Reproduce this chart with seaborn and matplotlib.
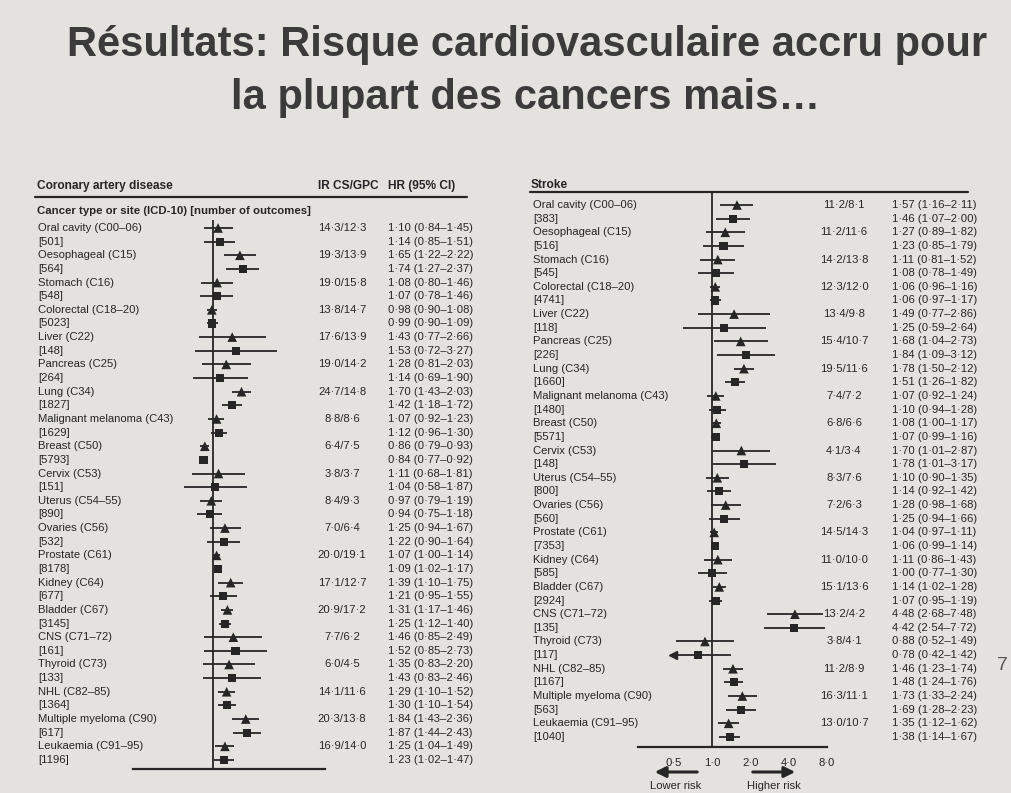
import pandas as pd
import matplotlib.pyplot as plt
import seaborn as sns
from matplotlib.lines import Line2D
from matplotlib.transforms import blended_transform_factory

W, H = 1011, 793

# Données
cancers = ["Oral cavity (C00–06)", "Oesophageal (C15)", "Stomach (C16)", "Colorectal (C18–20)",
           "Liver (C22)", "Pancreas (C25)", "Lung (C34)", "Malignant melanoma (C43)",
           "Breast (C50)", "Cervix (C53)", "Uterus (C54–55)", "Ovaries (C56)", "Prostate (C61)",
           "Kidney (C64)", "Bladder (C67)", "CNS (C71–72)", "Thyroid (C73)", "NHL (C82–85)",
           "Multiple myeloma (C90)", "Leukaemia (C91–95)"]

# Coronary artery disease
cad_n = [501, 564, 548, 5023, 148, 264, 1827, 1629, 5793, 151, 890, 532, 8178, 677, 3145, 161, 133, 1364, 617, 1196]
cad_ir_cs = [14.3, 19.3, 19.0, 13.8, 17.6, 19.0, 24.7, 8.8, 6.4, 3.8, 8.4, 7.0, 20.0, 17.1, 20.9, 7.7, 6.0, 14.1, 20.3, 16.9]
cad_ir_gpc = [12.3, 13.9, 15.8, 14.7, 13.9, 14.2, 14.8, 8.6, 7.5, 3.7, 9.3, 6.4, 19.1, 12.7, 17.2, 6.2, 4.5, 11.6, 13.8, 14.0]
cad_hr_tri = [1.10, 1.65, 1.08, 0.98, 1.43, 1.28, 1.70, 1.07, 0.86, 1.11, 0.97, 1.25, 1.07, 1.39, 1.31, 1.46, 1.35, 1.29, 1.84, 1.25]
cad_lo_tri = [0.84, 1.22, 0.80, 0.90, 0.77, 0.81, 1.43, 0.92, 0.79, 0.68, 0.79, 0.94, 1.00, 1.10, 1.17, 0.85, 0.83, 1.10, 1.43, 1.04]
cad_hi_tri = [1.45, 2.22, 1.46, 1.08, 2.66, 2.03, 2.03, 1.23, 0.93, 1.81, 1.19, 1.67, 1.14, 1.75, 1.46, 2.49, 2.20, 1.52, 2.36, 1.49]
cad_hr_sq = [1.14, 1.74, 1.07, 0.99, 1.53, 1.14, 1.42, 1.12, 0.84, 1.04, 0.94, 1.22, 1.09, 1.21, 1.25, 1.52, 1.43, 1.30, 1.87, 1.23]
cad_lo_sq = [0.85, 1.27, 0.78, 0.90, 0.72, 0.69, 1.18, 0.96, 0.77, 0.58, 0.75, 0.90, 1.02, 0.95, 1.12, 0.85, 0.83, 1.10, 1.44, 1.02]
cad_hi_sq = [1.51, 2.37, 1.46, 1.09, 3.27, 1.90, 1.72, 1.30, 0.92, 1.87, 1.18, 1.64, 1.17, 1.55, 1.40, 2.73, 2.46, 1.54, 2.43, 1.47]

# Stroke
stk_n = [383, 516, 545, 4741, 118, 226, 1660, 1480, 5571, 148, 800, 560, 7353, 585, 2924, 135, 117, 1167, 563, 1040]
stk_ir_cs = [11.2, 11.2, 14.2, 12.3, 13.4, 15.4, 19.5, 7.4, 6.8, 4.1, 8.3, 7.2, 14.5, 11.0, 15.1, 13.2, 3.8, 11.2, 16.3, 13.0]
stk_ir_gpc = [8.1, 11.6, 13.8, 12.0, 9.8, 10.7, 11.6, 7.2, 6.6, 3.4, 7.6, 6.3, 14.3, 10.0, 13.6, 4.2, 4.1, 8.9, 11.1, 10.7]
stk_hr_tri = [1.57, 1.27, 1.11, 1.06, 1.49, 1.68, 1.78, 1.07, 1.08, 1.70, 1.10, 1.28, 1.04, 1.11, 1.14, 4.48, 0.88, 1.46, 1.73, 1.35]
stk_lo_tri = [1.16, 0.89, 0.81, 0.96, 0.77, 1.04, 1.50, 0.92, 1.00, 1.01, 0.90, 0.98, 0.97, 0.86, 1.02, 2.68, 0.52, 1.23, 1.33, 1.12]
stk_hi_tri = [2.11, 1.82, 1.52, 1.16, 2.86, 2.73, 2.12, 1.24, 1.17, 2.87, 1.35, 1.68, 1.11, 1.43, 1.28, 7.48, 1.49, 1.74, 2.24, 1.62]
stk_hr_sq = [1.46, 1.23, 1.08, 1.06, 1.25, 1.84, 1.51, 1.10, 1.07, 1.78, 1.14, 1.25, 1.06, 1.00, 1.07, 4.42, 0.78, 1.48, 1.69, 1.38]
stk_lo_sq = [1.07, 0.85, 0.78, 0.97, 0.59, 1.09, 1.26, 0.94, 0.99, 1.01, 0.92, 0.94, 0.99, 0.77, 0.95, 2.54, 0.42, 1.24, 1.28, 1.14]
stk_hi_sq = [2.00, 1.79, 1.49, 1.17, 2.64, 3.12, 1.82, 1.28, 1.16, 3.17, 1.42, 1.66, 1.14, 1.30, 1.19, 7.72, 1.42, 1.76, 2.23, 1.67]

ticks = [0.5, 1.0, 2.0, 4.0, 8.0]
tick_labels = ["0·5", "1·0", "2·0", "4·0", "8·0"]

INK = '#262626'
BG = '#e3e2df'
FONT = ['Liberation Sans', 'DejaVu Sans']
FS = 8.1

sns.set_style('white')
plt.rcParams['font.family'] = FONT
plt.rcParams['text.color'] = INK


def dot(v, nd=2):
    return f"{v:.{nd}f}".replace('.', '·')


def panel_df(hr_t, lo_t, hi_t, hr_s, lo_s, hi_s):
    rows = []
    for k in range(len(cancers)):
        rows.append(dict(row=2 * k, hr=hr_t[k], lo=lo_t[k], hi=hi_t[k], kind='tri'))
        rows.append(dict(row=2 * k + 1, hr=hr_s[k], lo=lo_s[k], hi=hi_s[k], kind='sq'))
    return pd.DataFrame(rows)


def px_axes(fig, x0, x1, y0, y1):
    return fig.add_axes([x0 / W, 1 - y1 / H, (x1 - x0) / W, (y1 - y0) / H])


def draw_panel(fig, ax, df, xlim, ylim, clip, ir_cs, ir_gpc, counts, x_lab, x_ir, x_hr, show_labels):
    ax.set_facecolor('none')
    ax.set_xscale('log', base=2)
    ax.axvline(1, color=INK, lw=1.3, zorder=1)
    d = df.copy()
    d['lo_c'] = d['lo'].clip(lower=clip)
    ax.hlines(d['row'], d['lo_c'], d['hi'], color=INK, lw=1.3, zorder=2)
    cut = d[d['lo'] < clip]
    ax.plot(cut['lo_c'], cut['row'], marker='<', ls='none', color=INK, ms=6, zorder=3)
    sns.scatterplot(data=d, x='hr', y='row', style='kind', markers={'tri': '^', 'sq': 's'},
                    size='kind', sizes={'tri': 48, 'sq': 34}, color=INK, edgecolor=INK,
                    linewidth=0, legend=False, ax=ax, zorder=4)
    ax.set_xlim(*xlim)
    ax.set_ylim(*ylim)
    ax.set_xlabel('')
    ax.set_ylabel('')
    ax.set_yticks([])
    ax.set_xticks(ticks)
    ax.minorticks_off()
    if show_labels:
        ax.set_xticklabels(tick_labels, fontsize=FS)
    else:
        ax.set_xticklabels([])
    ax.tick_params(axis='x', direction='out', length=6, width=1.3, color=INK, pad=2)
    for s in ['top', 'left', 'right']:
        ax.spines[s].set_visible(False)
    ax.spines['bottom'].set_linewidth(1.6)
    ax.spines['bottom'].set_color(INK)

    tr = blended_transform_factory(fig.transFigure, ax.transData)
    for k, name in enumerate(cancers):
        ax.text(x_lab / W, 2 * k, name, transform=tr, va='center', fontsize=FS)
        ax.text(x_lab / W, 2 * k + 1, f"[{counts[k]}]", transform=tr, va='center', fontsize=FS)
        ax.text(x_ir / W, 2 * k, f"{dot(ir_cs[k], 1)}/{dot(ir_gpc[k], 1)}", transform=tr,
                va='center', ha='center', fontsize=FS)
    for _, r in df.iterrows():
        ax.text(x_hr / W, r['row'], f"{dot(r['hr'])} ({dot(r['lo'])}–{dot(r['hi'])})",
                transform=tr, va='center', fontsize=FS)


fig = plt.figure(figsize=(W / 100, H / 100), dpi=100)
fig.patch.set_facecolor(BG)

# Titre
fig.text(527 / W, 1 - 45 / H, "Résultats: Risque cardiovasculaire accru pour", ha='center', va='center',
         fontsize=30, fontweight='bold', color='#3b3b3b')
fig.text(526 / W, 1 - 98 / H, "la plupart des cancers mais…", ha='center', va='center',
         fontsize=30, fontweight='bold', color='#3b3b3b')

# Panneau gauche : maladie coronarienne
step = 13.64
axL = px_axes(fig, 133, 325, 220, 769)
yL = ((220 - 228) / step, (769 - 228) / step)
df_cad = panel_df(cad_hr_tri, cad_lo_tri, cad_hi_tri, cad_hr_sq, cad_lo_sq, cad_hi_sq)
draw_panel(fig, axL, df_cad, (0.227, 8), (yL[1], yL[0]), 0.2, cad_ir_cs, cad_ir_gpc, cad_n,
           38, 342, 388, False)

fig.text(37 / W, 1 - 186 / H, "Coronary artery disease", va='center', fontsize=8.6, fontweight='bold')
fig.text(318 / W, 1 - 186 / H, "IR CS/GPC", va='center', fontsize=8.6, fontweight='bold')
fig.text(388 / W, 1 - 186 / H, "HR (95% CI)", va='center', fontsize=8.6, fontweight='bold')
fig.text(37 / W, 1 - 211 / H, "Cancer type or site (ICD-10) [number of outcomes]", va='center',
         fontsize=8.2, fontweight='bold')
fig.add_artist(Line2D([35 / W, 467 / W], [1 - 197 / H, 1 - 197 / H], color=INK, lw=1.6))

# Panneau droit : AVC
axR = px_axes(fig, 638, 827, 193, 747)
yR = ((193 - 205) / step, (747 - 205) / step)
df_stk = panel_df(stk_hr_tri, stk_lo_tri, stk_hi_tri, stk_hr_sq, stk_lo_sq, stk_hi_sq)
draw_panel(fig, axR, df_stk, (0.262, 8), (yR[1], yR[0]), 0.49, stk_ir_cs, stk_ir_gpc, stk_n,
           533, 844, 892, True)

fig.text(531 / W, 1 - 185 / H, "Stroke", va='center', fontsize=8.6, fontweight='bold')
fig.add_artist(Line2D([530 / W, 968 / W], [1 - 192 / H, 1 - 192 / H], color=INK, lw=1.6))

# Flèches risque
arrow = dict(arrowstyle='-|>', lw=2.2, color=INK, mutation_scale=16)
axR.annotate('', xy=(652 / W, 1 - 772 / H), xytext=(700 / W, 1 - 772 / H),
             xycoords='figure fraction', arrowprops=arrow)
axR.annotate('', xy=(798 / W, 1 - 772 / H), xytext=(750 / W, 1 - 772 / H),
             xycoords='figure fraction', arrowprops=arrow)
fig.text(676 / W, 1 - 786 / H, "Lower risk", ha='center', va='center', fontsize=FS)
fig.text(774 / W, 1 - 786 / H, "Higher risk", ha='center', va='center', fontsize=FS)

fig.text(997 / W, 1 - 665 / H, "7", ha='left', va='center', fontsize=14, color='#555555')

fig.savefig('out.png', dpi=100, facecolor=BG)
